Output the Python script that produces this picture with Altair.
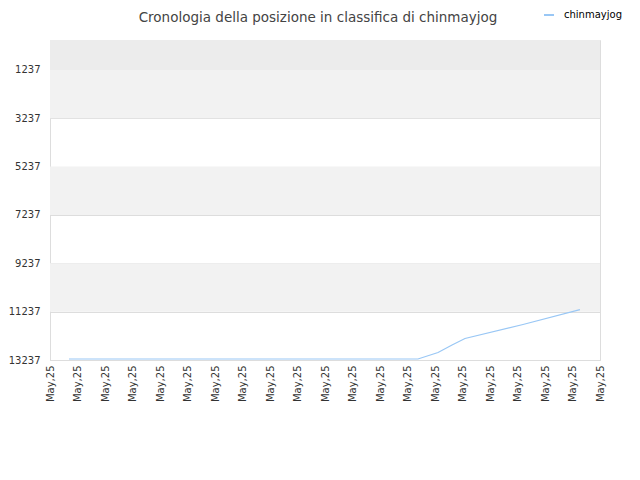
import altair as alt
import pandas as pd

# data
x_pos = [0.69, 13.38, 14.11, 14.62, 15.09, 17.2, 19.27]
ranks = [13195, 13195, 12927, 12617, 12348, 11770, 11156]
series = "chinmayjog"
tick_values = list(range(0, 21))
y_ticks = [1237, 3237, 5237, 7237, 9237, 11237, 13237]
band_lo = [0, 1237, 5237, 9237]
band_hi = [1237, 3237, 7237, 11237]
band_col = ["#ececec", "#f2f2f2", "#f2f2f2", "#f2f2f2"]

line_df = pd.DataFrame({"x": x_pos, "rank": ranks, "name": [series] * len(x_pos)})
band_df = pd.DataFrame({"lo": band_lo, "hi": band_hi, "c": band_col,
                        "x0": [0] * 4, "x1": [20] * 4})

xscale = alt.Scale(domain=[0, 20], nice=False, zero=False)
yscale = alt.Scale(domain=[0, 13237], reverse=True, nice=False, zero=False)

xaxis = alt.Axis(values=tick_values, labelExpr="'May,25'", labelAngle=-90,
                 grid=False, ticks=False, domainColor="#dddddd",
                 labelFont="DejaVu Sans", labelFontSize=10, labelColor="#333333",
                 labelPadding=5)
yaxis = alt.Axis(values=y_ticks, format="d", grid=True, gridColor="#dddddd", ticks=False,
                 domainColor="#dddddd", labelFont="DejaVu Sans",
                 labelFontSize=10, labelColor="#333333", labelPadding=10)

bands = alt.Chart(band_df).mark_rect().encode(
    x=alt.X("x0:Q", scale=xscale, axis=xaxis, title=None),
    x2="x1:Q",
    y=alt.Y("lo:Q", scale=yscale, axis=yaxis, title=None),
    y2="hi:Q",
    fill=alt.Fill("c:N", scale=None, legend=None),
)

line = alt.Chart(line_df).mark_line(strokeWidth=1.2).encode(
    x=alt.X("x:Q", scale=xscale, axis=xaxis, title=None),
    y=alt.Y("rank:Q", scale=yscale, axis=yaxis, title=None),
    stroke=alt.Stroke("name:N", scale=alt.Scale(domain=[series], range=["#99c7f5"]),
                      legend=alt.Legend(title=None, orient="none", legendX=493, legendY=-31,
                                        symbolType="stroke", symbolSize=100, symbolStrokeWidth=2,
                                        labelOffset=9,
                                        labelFont="DejaVu Sans", labelFontSize=10,
                                        labelColor="#000000")),
)

chart = alt.layer(bands, line).resolve_scale(fill="independent", stroke="independent").properties(
    width=550, height=320,
    autosize=alt.AutoSizeParams(type="none"),
    padding={"left": 42, "top": 32, "right": 32, "bottom": 100},
    title=alt.TitleParams("Cronologia della posizione in classifica di chinmayjog",
                          font="DejaVu Sans", fontSize=13.5, fontWeight="normal",
                          color="#444444", anchor="middle", dx=-7, offset=-15),
).configure_view(stroke="#dddddd")

chart.save("out.html", embed_options={"renderer": "svg", "actions": False})
